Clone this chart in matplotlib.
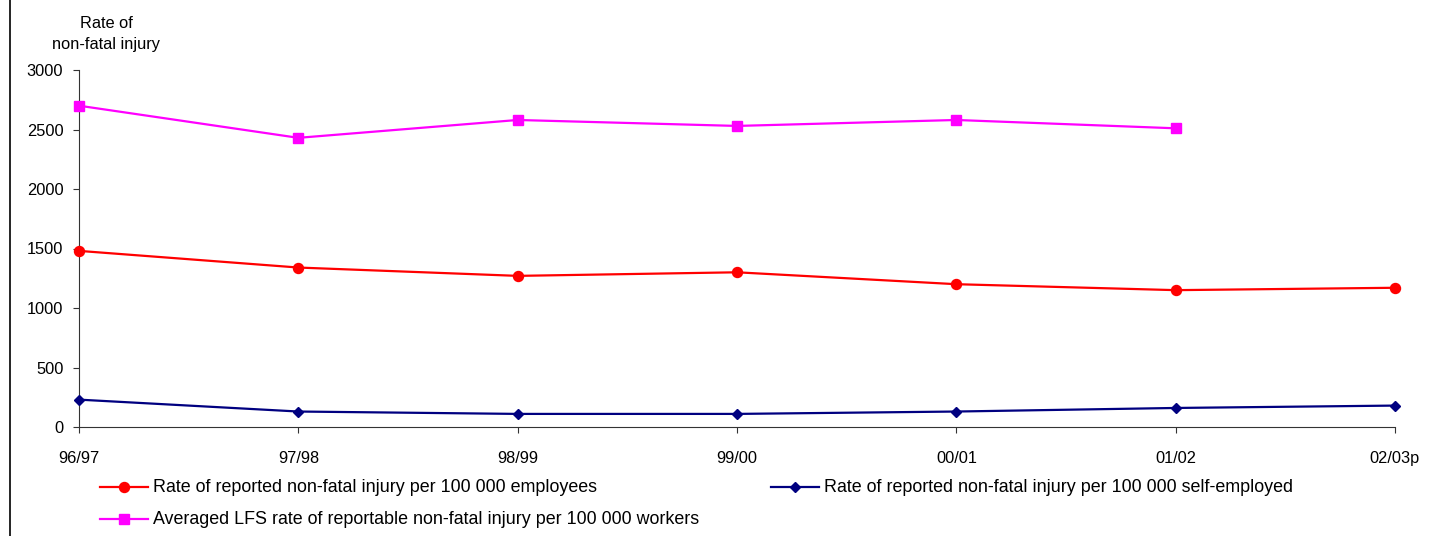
import matplotlib
matplotlib.use("Agg")
import matplotlib.pyplot as plt
from matplotlib.lines import Line2D

plt.rcParams['font.family'] = ['Liberation Sans', 'DejaVu Sans']

years = ["96/97", "97/98", "98/99", "99/00", "00/01", "01/02", "02/03p"]
employees = [1480, 1340, 1270, 1300, 1200, 1150, 1170]
self_employed = [230, 130, 110, 110, 130, 160, 180]
lfs_workers = [2700, 2430, 2580, 2530, 2580, 2510]

label_emp = "Rate of reported non-fatal injury per 100 000 employees"
label_self = "Rate of reported non-fatal injury per 100 000 self-employed"
label_lfs = "Averaged LFS rate of reportable non-fatal injury per 100 000 workers"

W, H = 1441, 536
fig = plt.figure(figsize=(W / 100, H / 100), dpi=100)
ax = fig.add_axes([79 / W, 1 - 427 / H, (1395 - 79) / W, (427 - 70) / H])

x = list(range(len(years)))
ax.plot(x, employees, color="#FF0000", lw=1.6, marker="o", ms=7.2, zorder=3, clip_on=False)
ax.plot(x, self_employed, color="#000080", lw=1.6, marker="D", ms=5.5, zorder=3, clip_on=False)
ax.plot(x[:len(lfs_workers)], lfs_workers, color="#FF00FF", lw=1.6, marker="s", ms=6.5,
        zorder=3, clip_on=False)

ax.set_xlim(0, len(years) - 1)
ax.set_ylim(0, 3000)
ax.set_yticks(range(0, 3001, 500))
ax.set_xticks(x)
ax.set_xticklabels(years)
for s in ("top", "right"):
    ax.spines[s].set_visible(False)
for s in ("left", "bottom"):
    ax.spines[s].set_color("#333333")
    ax.spines[s].set_linewidth(0.8)
ax.tick_params(axis="y", direction="out", length=4.3, width=0.8, pad=7, labelsize=11.8, color="#333333")
ax.tick_params(axis="x", direction="out", length=4.3, width=0.8, pad=13, labelsize=11.8, color="#333333")

fig.text(106 / W, 1 - 34 / H, "Rate of\nnon-fatal injury", ha="center", va="center",
         fontsize=11.8, linespacing=1.5)

# frame edge on the left
fig.add_artist(Line2D([10 / W, 10 / W], [0, 1], color="black", lw=1.2))

# legend entries
def legend_entry(x0, y, color, marker, ms, text):
    yy = 1 - y / H
    fig.add_artist(Line2D([x0 / W, (x0 + 48) / W], [yy, yy], color=color, lw=1.6))
    fig.add_artist(Line2D([(x0 + 24) / W], [yy], color=color, marker=marker, ms=ms, lw=0))
    fig.text((x0 + 53) / W, yy, text, ha="left", va="center", fontsize=12.9)

legend_entry(100, 487, "#FF0000", "o", 7.2, label_emp)
legend_entry(771, 487, "#000080", "D", 5.5, label_self)
legend_entry(100, 519, "#FF00FF", "s", 6.5, label_lfs)

fig.savefig("out.png", dpi=100)
